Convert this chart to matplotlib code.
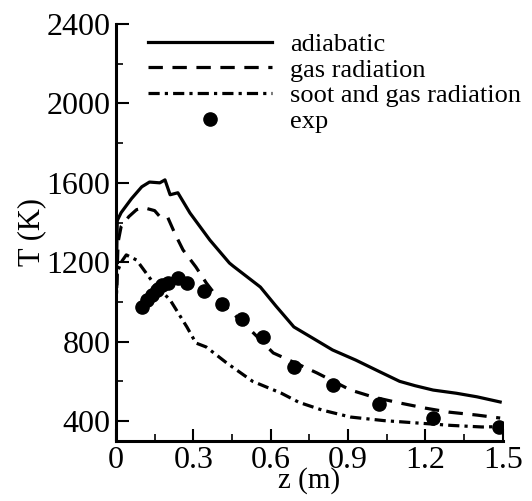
import numpy as np
import matplotlib.pyplot as plt
from matplotlib.ticker import MultipleLocator

plt.rcParams['font.family'] = ['Liberation Serif', 'DejaVu Serif']

# computed profiles along the axis
z_adia = [0.0, 0.005, 0.02, 0.06, 0.10, 0.13, 0.17, 0.19, 0.21, 0.24, 0.287, 0.364,
          0.44, 0.455, 0.56, 0.62, 0.69, 0.76, 0.84, 0.93, 1.02, 1.10, 1.16, 1.23,
          1.32, 1.40, 1.49]
T_adia = [1000, 1410, 1450, 1520, 1580, 1604, 1600, 1615, 1540, 1550, 1448, 1312,
          1196, 1180, 1075, 980, 874, 820, 758, 707, 650, 600, 578, 556,
          540, 522, 496]

z_gas = [0.0, 0.008, 0.02, 0.05, 0.08, 0.11, 0.15, 0.17, 0.20, 0.23, 0.26, 0.31,
         0.35, 0.41, 0.51, 0.61, 0.70, 0.78, 0.91, 1.00, 1.10, 1.20, 1.29, 1.40, 1.49]
T_gas = [950, 1300, 1380, 1430, 1465, 1474, 1460, 1430, 1428, 1340, 1262, 1176,
         1096, 995, 874, 743, 690, 642, 556, 520, 491, 465, 445, 430, 415]

z_soot = [0.0, 0.005, 0.02, 0.04, 0.08, 0.145, 0.21, 0.275, 0.31, 0.35, 0.43,
          0.53, 0.64, 0.71, 0.80, 0.91, 1.04, 1.17, 1.30, 1.42, 1.49]
T_soot = [960, 1150, 1200, 1237, 1211, 1096, 1010, 874, 793, 773, 692,
          600, 541, 494, 455, 420, 402, 390, 378, 370, 372]

# measurements
z_exp = [0.10, 0.12, 0.14, 0.16, 0.18, 0.20, 0.24, 0.275, 0.34, 0.41, 0.49,
         0.57, 0.69, 0.84, 1.02, 1.23, 1.485]
T_exp = [975, 1010, 1035, 1060, 1085, 1096, 1120, 1096, 1055, 990, 914,
         823, 672, 581, 486, 415, 370]

fig = plt.figure(figsize=(5.32, 5.01), dpi=100)
ax = fig.add_axes([0.218, 0.12, 0.727, 0.832])

lw = 2.3
ax.plot(z_adia, T_adia, color='black', lw=lw, label='adiabatic')
ax.plot(z_gas, T_gas, color='black', lw=lw, dashes=(4.5, 3.0), label='gas radiation')
ax.plot(z_soot, T_soot, color='black', lw=lw, dashes=(3.5, 1.6, 1.0, 1.6),
        label='soot and gas radiation')
ax.plot(z_exp, T_exp, 'o', color='black', ms=9.5, label='exp')

ax.set_xlim(0, 1.5)
ax.set_ylim(300, 2400)
ax.set_xticks([0, 0.3, 0.6, 0.9, 1.2, 1.5])
ax.set_xticklabels(['0', '0.3', '0.6', '0.9', '1.2', '1.5'])
ax.xaxis.set_minor_locator(MultipleLocator(0.15))
ax.yaxis.set_major_locator(MultipleLocator(400))
ax.yaxis.set_minor_locator(MultipleLocator(200))

for side in ('top', 'right'):
    ax.spines[side].set_visible(False)
for side in ('left', 'bottom'):
    ax.spines[side].set_linewidth(2.2)

ax.tick_params(which='major', direction='in', length=9, width=1.5, labelsize=23, pad=4)
ax.tick_params(which='minor', direction='in', length=5, width=1.2)

ax.set_xlabel('z (m)', fontsize=21, labelpad=-6)
ax.set_ylabel('T (K)', fontsize=22, labelpad=0)

ax.legend(loc='upper left', bbox_to_anchor=(0.055, 1.005), frameon=False, fontsize=19,
          handlelength=4.7, handletextpad=0.7, labelspacing=0.08, borderaxespad=0)

fig.savefig('out.png', dpi=100)
